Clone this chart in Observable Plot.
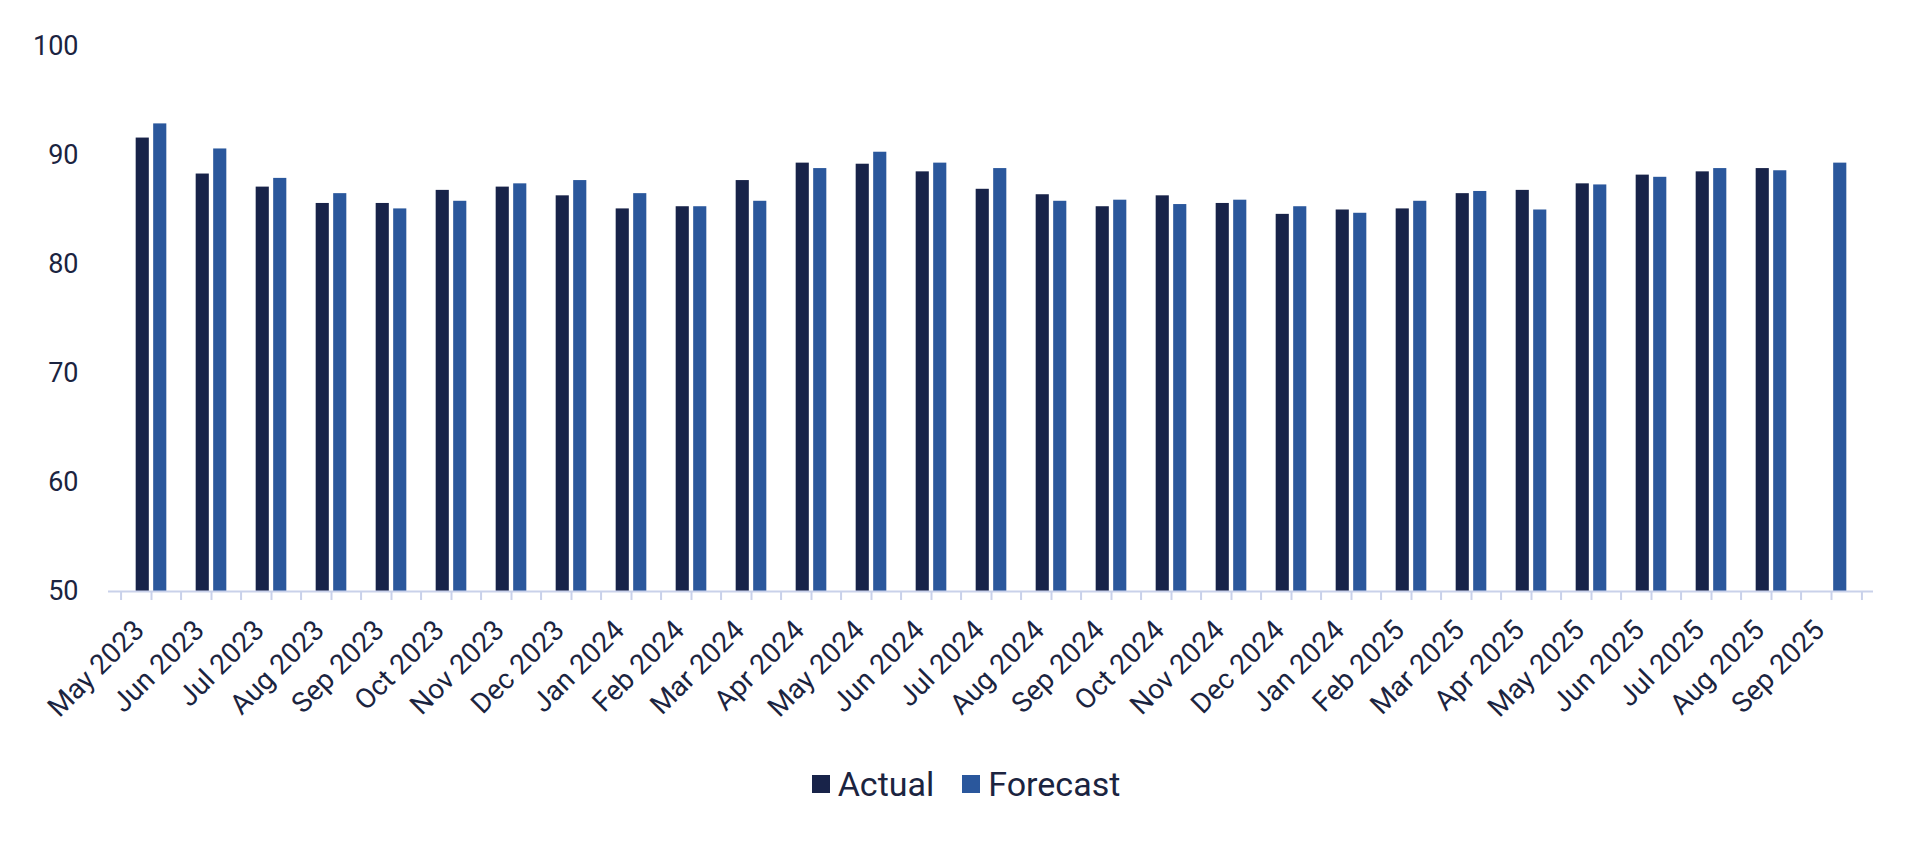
<!DOCTYPE html>
<html>
<head>
<meta charset="utf-8">
<script src="https://cdn.jsdelivr.net/npm/d3@7"></script>
<script src="https://cdn.jsdelivr.net/npm/@observablehq/plot@0.6"></script>
<style>
  html, body { margin: 0; padding: 0; background: #fff; }
  body { width: 1920px; height: 845px; overflow: hidden; font-family: Roboto, "Noto Sans", sans-serif; }
  #legend { display: flex; justify-content: center; align-items: center; height: 40px; margin-top: 34px; font-size: 34px; color: #1b2440; padding-left: 12px; }
  .item { display: flex; align-items: center; margin: 0 14px; }
  .sw { width: 18px; height: 18px; margin-right: 8px; }
</style>
</head>
<body>
<div id="chart"></div>
<div id="legend"></div>
<script>
const months = ["May 2023","Jun 2023","Jul 2023","Aug 2023","Sep 2023","Oct 2023","Nov 2023","Dec 2023","Jan 2024","Feb 2024","Mar 2024","Apr 2024","May 2024","Jun 2024","Jul 2024","Aug 2024","Sep 2024","Oct 2024","Nov 2024","Dec 2024","Jan 2024 ","Feb 2025","Mar 2025","Apr 2025","May 2025","Jun 2025","Jul 2025","Aug 2025","Sep 2025"];
const actual   = [91.6,88.3,87.1,85.6,85.6,86.8,87.1,86.3,85.1,85.3,87.7,89.3,89.2,88.5,86.9,86.4,85.3,86.3,85.6,84.6,85.0,85.1,86.5,86.8,87.4,88.2,88.5,88.8,null];
const forecast = [92.9,90.6,87.9,86.5,85.1,85.8,87.4,87.7,86.5,85.3,85.8,88.8,90.3,89.3,88.8,85.8,85.9,85.5,85.9,85.3,84.7,85.8,86.7,85.0,87.3,88.0,88.8,88.6,89.3];
const seriesNames = ["Actual","Forecast"];
const seriesColors = ["#182349","#2a579c"];
const yTicks = [50,60,70,80,90,100];

const rows = [];
months.forEach((m,i) => {
  if (actual[i] != null) rows.push({month: m, series: "Actual", value: actual[i]});
  if (forecast[i] != null) rows.push({month: m, series: "Forecast", value: forecast[i]});
});

const W = 1920, H = 730, ML = 108, MR = 47, MT = 46, MB = 139;
const bw = (W - ML - MR) / months.length;
const barW = 14, gap = 3.5;
const inset = (bw - barW) / 2;
const off = (barW + gap) / 2;
const axisColor = "#c9d1ea";
const textColor = "#1b2440";

const plot = Plot.plot({
  width: W, height: H,
  marginLeft: ML, marginRight: MR, marginTop: MT, marginBottom: MB,
  style: {fontFamily: "Roboto, 'Noto Sans', sans-serif", fontSize: "26px", color: textColor, background: "#fff"},
  x: {domain: months, padding: 0, label: null},
  y: {domain: [50, 100], label: null},
  color: {domain: seriesNames, range: seriesColors},
  marks: [
    Plot.barY(rows.filter(d => d.series === "Actual"), {x: "month", y1: 50, y2: "value", fill: "series", insetLeft: inset, insetRight: inset, dx: -off}),
    Plot.barY(rows.filter(d => d.series === "Forecast"), {x: "month", y1: 50, y2: "value", fill: "series", insetLeft: inset, insetRight: inset, dx: off}),
    Plot.ruleY([50], {stroke: axisColor, strokeWidth: 2}),
    Plot.axisY({ticks: yTicks, tickSize: 0, tickPadding: 30, fontSize: 27, fill: textColor}),
    Plot.axisX(months, {tickSize: 9, text: null, stroke: axisColor, strokeWidth: 2}),
    Plot.axisX(months, {tickSize: 9, text: null, stroke: axisColor, strokeWidth: 2, dx: -bw/2}),
    Plot.axisX([months[months.length-1]], {tickSize: 9, text: null, stroke: axisColor, strokeWidth: 2, dx: bw/2}),
    Plot.axisX(months, {tickSize: 0, tickPadding: 34, tickRotate: -45, fontSize: 28, fill: textColor, dx: -12, tickFormat: d => d.trim()})
  ]
});
document.getElementById("chart").appendChild(plot);

const lg = document.getElementById("legend");
seriesNames.forEach((s,i) => {
  const it = document.createElement("div"); it.className = "item";
  const sw = document.createElement("div"); sw.className = "sw"; sw.style.background = seriesColors[i];
  const tx = document.createElement("span"); tx.textContent = s;
  it.appendChild(sw); it.appendChild(tx); lg.appendChild(it);
});
</script>
</body>
</html>
